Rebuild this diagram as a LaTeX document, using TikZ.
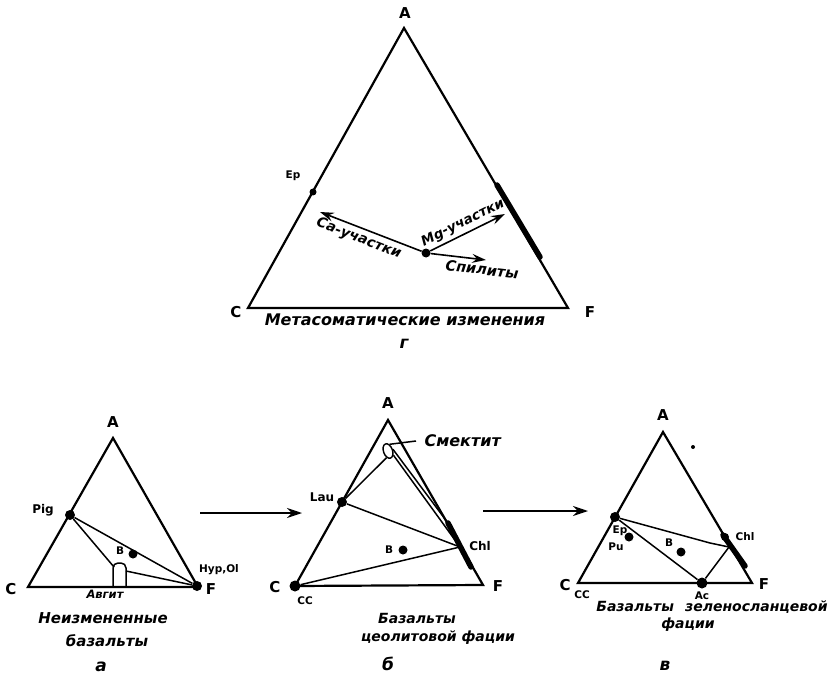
\documentclass[tikz,border=0pt]{standalone}
\usepackage{fontspec}
\setmainfont{DejaVu Sans}
\usetikzlibrary{arrows.meta,shapes.geometric}
\newcommand\setfs[1]{\fontsize{#1}{#1}\selectfont}
\tikzset{
  trside/.style={line width=2.2pt,line join=miter},
  tieline/.style={line width=1.5pt},
  mdot/.style={circle,fill,inner sep=0pt,minimum size=#1},
  mdot/.default=8pt,
  vlab/.style={font=\bfseries\setfs{15}},
  mlab/.style={font=\bfseries\setfs{12}},
  slab/.style={font=\bfseries\setfs{10.5}},
  capt/.style={font=\bfseries\itshape\setfs{#1}},
  chlbar/.style={line width=5.5pt,line cap=round},
  metarrow/.style={line width=1.6pt,-{Stealth[length=14pt,width=9pt,inset=5pt]}},
  flowarrow/.style={line width=1.6pt,-{Stealth[length=15pt,width=10pt,inset=5pt]}}
}
\begin{document}
\begin{tikzpicture}[x=1pt,y=-1pt]
\useasboundingbox (0,0) rectangle (835,679);
% г
\coordinate (gA) at (404,28);
\coordinate (gC) at (248,308);
\coordinate (gF) at (568,308);
\draw[trside] (gA) -- (gC) -- (gF) -- cycle;
\node[vlab] at (405,13) {A};
\node[vlab] at (236,312) {C};
\node[vlab] at (590,312) {F};
\node[mdot=7pt] (gEp) at (313,192) {};
\node[slab] at (293,176) {Ep};
\coordinate (gChlT) at (497,185);
\coordinate (gChlB) at (540,257);
\draw[chlbar] (gChlT) -- (gChlB);
\node[mdot=9pt] (gM) at (426,253) {};
\coordinate (gCa) at (320,212);
\coordinate (gMg) at (505,214);
\coordinate (gSp) at (486,260);
\draw[metarrow] (gM) -- node[sloped,below,pos=0.58,capt=14] {Ca-участки} (gCa);
\draw[metarrow] (gM) -- node[sloped,above,pos=0.5,capt=13.5] {Mg-участки} (gMg);
\draw[metarrow] (gM) -- node[sloped,below,pos=0.95,capt=14.5] {Спилиты} (gSp);
\node[capt=16] at (405,320) {Метасоматические изменения};
\node[capt=17] at (404,344) {г};
% а
\coordinate (aA) at (113,438);
\coordinate (aC) at (28,587);
\coordinate (aF) at (198,587);
\draw[trside] (aA) -- (aC) -- (aF) -- cycle;
\node[vlab] at (113,422) {A};
\node[vlab] at (11,589) {C};
\node[vlab] at (211,589) {F};
\node[mdot=10pt] (aPig) at (70,515) {};
\node[mlab] at (43,510) {Pig};
\node[mdot=10pt] (aHyp) at (197,586) {};
\node[slab] at (219,570) {Hyp,Ol};
\node[mdot=9pt] (aB) at (133,554) {};
\node[slab] at (120,551) {B};
\draw[tieline,rounded corners=5pt] (113,587) -- (113,563) -- (126,563) -- (126,587);
\coordinate (aAugL) at (114,567);
\coordinate (aAugR) at (126,571);
\draw[tieline] (aPig) -- (aHyp);
\draw[tieline] (aPig) -- (aAugL);
\draw[tieline] (aAugR) -- (aHyp);
\node[capt=11.5] at (105,594) {Авгит};
\node[capt=15] at (103,618) {Неизмененные};
\node[capt=15] at (107,641) {базальты};
\node[capt=17] at (101,667) {а};
\coordinate (ab1) at (200,513);
\coordinate (ab2) at (302,513);
\draw[flowarrow] (ab1) -- (ab2);
% б
\coordinate (bA) at (388,420);
\coordinate (bC) at (295,586);
\coordinate (bF) at (483,585);
\draw[trside] (bA) -- (bC) -- (bF) -- cycle;
\node[vlab] at (388,403) {A};
\node[vlab] at (275,587) {C};
\node[vlab] at (498,586) {F};
\node[mdot=11pt] (bCC) at (295,586) {};
\node[slab] at (305,601) {CC};
\node[mdot=10pt] (bLau) at (342,502) {};
\node[mlab] at (322,497) {Lau};
\coordinate (bChl) at (460,547);
\coordinate (bChlT) at (448,523);
\coordinate (bChlB) at (471,567);
\draw[chlbar] (bChlT) -- (bChlB);
\node[mlab] at (480,546) {Chl};
\node[draw,ellipse,line width=1.4pt,inner sep=0pt,minimum width=9pt,minimum height=15pt,rotate=20] (bSm) at (388,451) {};
\node[capt=16,anchor=west] (bSmL) at (421,441) {Смектит};
\draw[tieline] (bSm.north east) -- ([xshift=-5pt]bSmL.west);
\draw[tieline] (bLau) -- (bSm.south west);
\draw[tieline] (bSm.south east) -- (bChl);
\draw[tieline] (bSm.east) -- (bChlT);
\draw[tieline] (bLau) -- (bChl);
\draw[tieline] (bCC) -- (bChl);
\node[mdot=9pt] (bB) at (403,550) {};
\node[slab] at (389,550) {B};
\node[capt=14] at (417,618) {Базальты};
\node[capt=14] at (438,638) {цеолитовой фации};
\node[capt=17] at (388,664) {б};
\coordinate (bc1) at (483,511);
\coordinate (bc2) at (588,511);
\draw[flowarrow] (bc1) -- (bc2);
% в
\coordinate (cA) at (663,432);
\coordinate (cC) at (578,583);
\coordinate (cF) at (752,583);
\draw[trside] (cA) -- (cC) -- (cF) -- cycle;
\node[vlab] at (663,415) {A};
\node[vlab] at (565,585) {C};
\node[vlab] at (764,584) {F};
\node[mdot=4pt] (cSp) at (693,447) {};
\node[mdot=10pt] (cEp) at (615,517) {};
\node[slab] at (620,531) {Ep};
\node[mdot=9pt] (cPu) at (629,537) {};
\node[slab] at (616,547) {Pu};
\node[mdot=9pt] (cB) at (681,552) {};
\node[slab] at (669,543) {B};
\node[mdot=8pt] (cChl) at (725,537) {};
\coordinate (cChlT) at (723,535);
\coordinate (cChlB) at (745,566);
\coordinate (cChlM) at (729,547);
\coordinate (cBend) at (710,543);
\draw[chlbar] (cChlT) -- (cChlB);
\node[slab] at (745,537) {Chl};
\node[mdot=11pt] (cAc) at (702,583) {};
\node[slab] at (702,596) {Ac};
\node[slab] at (582,595) {CC};
\draw[tieline] (cEp) -- (cBend) -- (cChlM);
\draw[tieline] (cEp) -- (cAc);
\draw[tieline] (cAc) -- (cChlM);
\node[capt=14] at (712,607) {Базальты\hspace{0.8em}зеленосланцевой};
\node[capt=14] at (688,625) {фации};
\node[capt=17] at (665,666) {в};
\end{tikzpicture}
\end{document}
